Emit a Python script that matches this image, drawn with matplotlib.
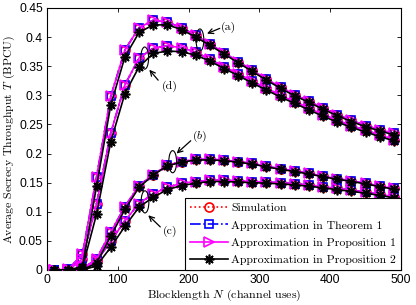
import matplotlib
matplotlib.use("Agg")
import matplotlib.pyplot as plt
from matplotlib.patches import Ellipse

plt.rcParams['mathtext.fontset'] = 'cm'

N = list(range(10, 500, 20))

# Curve (a)
sim_a = [0, 0.001, 0.027, 0.160, 0.298, 0.378, 0.416, 0.429, 0.426, 0.416, 0.403, 0.388, 0.373, 0.358,
         0.343, 0.328, 0.314, 0.301, 0.290, 0.278, 0.267, 0.257, 0.248, 0.241, 0.235]
thm_a = [0, 0.001, 0.027, 0.160, 0.298, 0.378, 0.416, 0.429, 0.426, 0.416, 0.403, 0.388, 0.373, 0.358,
         0.343, 0.328, 0.314, 0.301, 0.290, 0.278, 0.267, 0.257, 0.248, 0.241, 0.235]
p1_a = [0, 0.001, 0.027, 0.160, 0.298, 0.378, 0.416, 0.429, 0.426, 0.416, 0.403, 0.388, 0.373, 0.358,
        0.343, 0.328, 0.314, 0.301, 0.290, 0.278, 0.267, 0.257, 0.248, 0.241, 0.235]
p2_a = [0, 0.000, 0.006, 0.144, 0.283, 0.366, 0.408, 0.421, 0.421, 0.413, 0.400, 0.386, 0.371, 0.356,
        0.341, 0.326, 0.312, 0.299, 0.288, 0.276, 0.265, 0.255, 0.246, 0.239, 0.232]

# Curve (d)
sim_d = [0, 0.000, 0.019, 0.114, 0.235, 0.318, 0.364, 0.381, 0.385, 0.382, 0.374, 0.362, 0.349, 0.337,
         0.324, 0.312, 0.300, 0.289, 0.278, 0.267, 0.257, 0.248, 0.240, 0.232, 0.224]
thm_d = [0, 0.000, 0.019, 0.114, 0.235, 0.318, 0.364, 0.381, 0.385, 0.382, 0.374, 0.362, 0.349, 0.337,
         0.324, 0.312, 0.300, 0.289, 0.278, 0.267, 0.257, 0.248, 0.240, 0.232, 0.224]
p1_d = [0, 0.000, 0.019, 0.114, 0.235, 0.318, 0.364, 0.381, 0.385, 0.382, 0.374, 0.362, 0.349, 0.337,
        0.324, 0.312, 0.300, 0.289, 0.278, 0.267, 0.257, 0.248, 0.240, 0.232, 0.224]
p2_d = [0, 0.000, 0.004, 0.096, 0.220, 0.303, 0.349, 0.372, 0.376, 0.375, 0.369, 0.359, 0.346, 0.334,
        0.321, 0.309, 0.297, 0.286, 0.275, 0.264, 0.254, 0.245, 0.237, 0.229, 0.222]

# Curve (b)
sim_b = [0, 0.000, 0.002, 0.019, 0.065, 0.109, 0.145, 0.164, 0.180, 0.186, 0.190, 0.190, 0.189, 0.186,
         0.183, 0.178, 0.174, 0.170, 0.166, 0.161, 0.157, 0.153, 0.149, 0.144, 0.140]
thm_b = [0, 0.000, 0.002, 0.019, 0.065, 0.109, 0.145, 0.164, 0.180, 0.186, 0.190, 0.190, 0.189, 0.186,
         0.183, 0.178, 0.174, 0.170, 0.166, 0.161, 0.157, 0.153, 0.149, 0.144, 0.140]
p1_b = [0, 0.000, 0.002, 0.019, 0.065, 0.109, 0.145, 0.164, 0.180, 0.186, 0.190, 0.190, 0.189, 0.186,
        0.183, 0.178, 0.174, 0.170, 0.166, 0.161, 0.157, 0.153, 0.149, 0.144, 0.140]
p2_b = [0, 0.000, 0.000, 0.012, 0.058, 0.104, 0.142, 0.163, 0.179, 0.185, 0.189, 0.189, 0.188, 0.185,
        0.182, 0.177, 0.173, 0.169, 0.165, 0.160, 0.156, 0.152, 0.148, 0.143, 0.139]

# Curve (c)
sim_c = [0, 0.000, 0.001, 0.016, 0.049, 0.085, 0.114, 0.131, 0.142, 0.149, 0.152, 0.154, 0.154, 0.153,
         0.152, 0.151, 0.150, 0.148, 0.146, 0.143, 0.140, 0.137, 0.134, 0.130, 0.126]
thm_c = [0, 0.000, 0.001, 0.016, 0.049, 0.085, 0.114, 0.131, 0.142, 0.149, 0.152, 0.154, 0.154, 0.153,
         0.152, 0.151, 0.150, 0.148, 0.146, 0.143, 0.140, 0.137, 0.134, 0.130, 0.126]
p1_c = [0, 0.000, 0.001, 0.016, 0.049, 0.085, 0.114, 0.131, 0.142, 0.149, 0.152, 0.154, 0.154, 0.153,
        0.152, 0.151, 0.150, 0.148, 0.146, 0.143, 0.140, 0.137, 0.134, 0.130, 0.126]
p2_c = [0, 0.000, 0.000, 0.007, 0.039, 0.075, 0.108, 0.125, 0.138, 0.145, 0.149, 0.152, 0.152, 0.151,
        0.150, 0.149, 0.148, 0.146, 0.144, 0.141, 0.138, 0.135, 0.132, 0.128, 0.124]

legend_labels = ["Simulation", "Approximation in Theorem 1",
                 "Approximation in Proposition 1", "Approximation in Proposition 2"]

fig = plt.figure(figsize=(4.16, 3.05), dpi=100)
ax = fig.add_axes([47/416, 35/305, 354/416, 262/305])

ms = 6.5
styles = [
    dict(color='red', linestyle=':', marker='o', mfc='none', mec='red', ms=ms, lw=1.2, mew=1.2, zorder=3),
    dict(color='blue', linestyle='-.', marker='s', mfc='none', mec='blue', ms=ms - 0.5, lw=1.2, mew=1.2, zorder=4),
    dict(color='magenta', linestyle='-', marker='>', mfc='none', mec='magenta', ms=ms, lw=1.2, mew=1.2, zorder=5),
    dict(color='black', linestyle='-', marker=(8, 2, 0), mec='black', ms=ms + 0.5, lw=1.2, mew=1.2, zorder=6),
]

groups = [(sim_a, thm_a, p1_a, p2_a), (sim_d, thm_d, p1_d, p2_d),
          (sim_b, thm_b, p1_b, p2_b), (sim_c, thm_c, p1_c, p2_c)]
handles = []
for gi, grp in enumerate(groups):
    for si, series in enumerate(grp):
        h, = ax.plot(N, series, **styles[si])
        if gi == 0:
            handles.append(h)

ax.set_xlim(0, 500)
ax.set_ylim(0, 0.45)
ax.set_xticks([0, 100, 200, 300, 400, 500])
ax.set_yticks([0, 0.05, 0.1, 0.15, 0.2, 0.25, 0.3, 0.35, 0.4, 0.45])
ax.set_yticklabels(['0', '0.05', '0.1', '0.15', '0.2', '0.25', '0.3', '0.35', '0.4', '0.45'])
ax.tick_params(direction='in', top=True, right=True, length=3, width=0.6, labelsize=8.7, pad=3)
for lab in ax.get_xticklabels() + ax.get_yticklabels():
    lab.set_fontfamily('Liberation Sans')
for sp in ax.spines.values():
    sp.set_linewidth(0.8)

ax.set_xlabel(r'Blocklength $N$ (channel uses)', fontfamily='cmr10', fontsize=8.6)
ax.set_ylabel(r'Average Secrecy Throughput $T$ (BPCU)', fontfamily='cmr10', fontsize=8.5)
ax.yaxis.label.set_va('center')
ax.xaxis.set_label_coords(0.5, -0.066)
ax.yaxis.set_label_coords(-0.105, 0.5)

leg = ax.legend(handles, legend_labels, loc='lower right', borderaxespad=0.0,
                prop={'family': 'cmr10', 'size': 8.5}, handlelength=3.2, handletextpad=0.3,
                labelspacing=0.6, fancybox=False, edgecolor='black', framealpha=1.0,
                borderpad=0.4)
leg.get_frame().set_linewidth(0.8)
leg.set_zorder(10)

# Ellipses and annotations
ell_w, ell_h = 11, 0.038
for (cx, cy) in [(216, 0.395), (138, 0.364), (177.5, 0.186), (138.4, 0.117)]:
    ax.add_patch(Ellipse((cx, cy), ell_w, ell_h, fill=False, edgecolor='black', lw=0.8, zorder=8))

arrow = dict(arrowstyle='->', color='black', lw=0.9, shrinkA=0, shrinkB=0, mutation_scale=9)
ax.annotate('', xy=(226, 0.406), xytext=(244, 0.415), arrowprops=arrow, zorder=9)
ax.annotate('', xy=(144.5, 0.344), xytext=(157, 0.326), arrowprops=arrow, zorder=9)
ax.annotate('', xy=(183, 0.200), xytext=(203, 0.222), arrowprops=arrow, zorder=9)
ax.annotate('', xy=(143, 0.094), xytext=(160, 0.074), arrowprops=arrow, zorder=9)

ax.text(246, 0.416, '(a)', fontfamily='cmr10', fontsize=8.5, va='center', ha='left')
ax.text(162, 0.315, '(d)', fontfamily='cmr10', fontsize=8.5, va='center', ha='left')
ax.text(205, 0.229, r'$(b)$', fontsize=8.5, va='center', ha='left')
ax.text(163, 0.066, '(c)', fontfamily='cmr10', fontsize=8.5, va='center', ha='left')

fig.savefig('out.png', dpi=100)
